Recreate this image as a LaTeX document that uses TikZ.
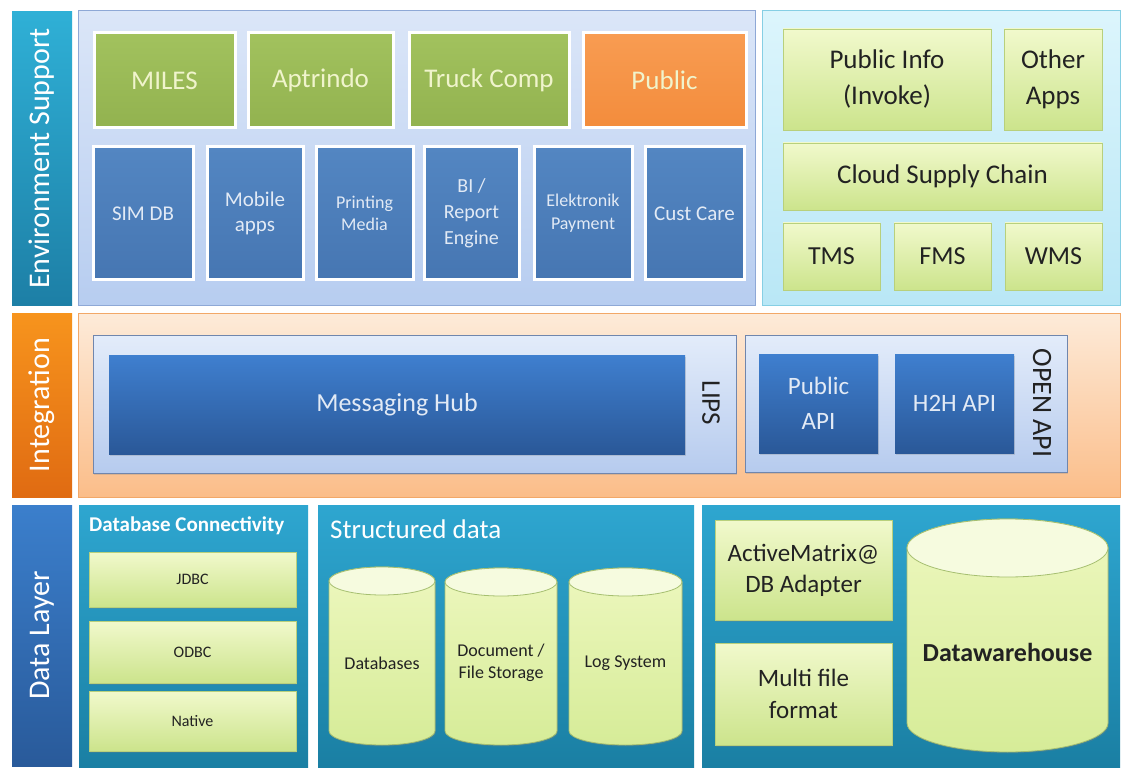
\documentclass[tikz,border=0pt]{standalone}
\usepackage{fontspec}
\setmainfont{Carlito}
\usetikzlibrary{shadows}
\definecolor{envbarA}{HTML}{2FB0D6}\definecolor{envbarB}{HTML}{1D7FA6}
\definecolor{intbarA}{HTML}{F7941D}\definecolor{intbarB}{HTML}{E06B12}
\definecolor{databarA}{HTML}{3B7FCC}\definecolor{databarB}{HTML}{295A9A}
\definecolor{pA}{HTML}{DBE6F8}\definecolor{pB}{HTML}{B7CDF0}\definecolor{pline}{HTML}{8EA8D6}
\definecolor{qA}{HTML}{DCF5FC}\definecolor{qB}{HTML}{B9E7F6}\definecolor{qline}{HTML}{86CFE4}
\definecolor{iA}{HTML}{FDEBD9}\definecolor{iB}{HTML}{FBBD89}\definecolor{iline}{HTML}{F2A868}
\definecolor{inA}{HTML}{E3ECFA}\definecolor{inB}{HTML}{B6CBEE}\definecolor{inline}{HTML}{7086AD}
\definecolor{hubA}{HTML}{3F7FCF}\definecolor{hubB}{HTML}{2A5898}
\definecolor{oliveA}{HTML}{A2C25E}\definecolor{oliveB}{HTML}{92B24F}
\definecolor{orangeA}{HTML}{F89C52}\definecolor{orangeB}{HTML}{F38C3C}
\definecolor{blueA}{HTML}{5386C2}\definecolor{blueB}{HTML}{4676B2}
\definecolor{grA}{HTML}{F1F9CC}\definecolor{grB}{HTML}{CCE48C}\definecolor{grline}{HTML}{B8D07C}
\definecolor{dA}{HTML}{2EA6D0}\definecolor{dB}{HTML}{1A7FA3}
\definecolor{cylA}{HTML}{EDF7BE}\definecolor{cylB}{HTML}{D6EC98}\definecolor{cylline}{HTML}{A6BF70}
\definecolor{cyltopc}{HTML}{F6FBDF}
\definecolor{paletext}{HTML}{F0F4CC}\definecolor{bluetext}{HTML}{E2EAF5}
\definecolor{darktext}{HTML}{222222}
\newcommand\mycyl[6]{%
 \path[cylbody] (#2-#3,#4) -- (#2-#3,#5) arc[start angle=180,end angle=0,x radius=#3,y radius=#6] -- (#2+#3,#4) arc[start angle=0,end angle=-180,x radius=#3,y radius=#6] -- cycle;
 \path[cyltop] (#2,#4) ellipse[x radius=#3,y radius=#6];
 \coordinate (#1) at (#2,{(#4+#5)/2});
}
\begin{document}
\begin{tikzpicture}[x=1pt,y=-1pt,
 barbox/.style={inner sep=0pt, draw=none},
 bartext/.style={inner sep=0pt, text=white, font=\fontsize{30}{34}\selectfont},
 panel/.style={inner sep=0pt, line width=1pt},
 shadowed/.style={drop shadow={opacity=0.25,shadow xshift=1pt,shadow yshift=-1.5pt}},
 topbox/.style={inner sep=0pt, align=center, draw=white, line width=3pt, shadowed},
 olivebox/.style={topbox, top color=oliveA, bottom color=oliveB, text=paletext, font=\fontsize{27}{33}\selectfont},
 orangebox/.style={topbox, top color=orangeA, bottom color=orangeB, text=paletext, font=\fontsize{27}{33}\selectfont},
 bluebox/.style={topbox, top color=blueA, bottom color=blueB, text=bluetext},
 greenbox/.style={inner sep=0pt, align=center, draw=grline, line width=0.6pt, top color=grA, bottom color=grB, text=darktext, shadowed},
 hubbox/.style={inner sep=0pt, align=center, draw=none, top color=hubA, bottom color=hubB, text=bluetext, shadowed},
 cylbody/.style={top color=cylA, bottom color=cylB, draw=cylline, line width=0.8pt, shadowed},
 cyltop/.style={fill=cyltopc, draw=cylline, line width=0.8pt},
 cyltext/.style={inner sep=0pt, align=center, text=darktext, font=\fontsize{18}{22}\selectfont},
]
\useasboundingbox (0,0) rectangle (1125,778);
\fill[white] (0,0) rectangle (1125,778);

% left bars
\node[barbox, top color=envbarA, bottom color=envbarB, minimum width=60pt, minimum height=293pt] (envbar) at (42,158.5) {};
\node[barbox, top color=intbarA, bottom color=intbarB, minimum width=60pt, minimum height=184pt] (intbar) at (42,405) {};
\node[barbox, top color=databarA, bottom color=databarB, minimum width=60pt, minimum height=261pt] (databar) at (42,635.5) {};
\node[bartext, rotate=90] (envlbl) at (envbar) {Environment Support};
\node[bartext, rotate=90] (intlbl) at (intbar) {Integration};
\node[bartext, rotate=90] (datalbl) at (databar) {Data Layer};

% panels
\node[panel, top color=pA, bottom color=pB, draw=pline, minimum width=677pt, minimum height=294pt] (envp1) at (416.5,158) {};
\node[panel, top color=qA, bottom color=qB, draw=qline, minimum width=358pt, minimum height=294pt] (envp2) at (941,158) {};
\node[panel, top color=iA, bottom color=iB, draw=iline, minimum width=1042pt, minimum height=184pt] (intp) at (599,405) {};
\node[panel, top color=dA, bottom color=dB, draw=none, minimum width=229pt, minimum height=262pt] (dcp) at (193.5,636) {};
\node[panel, top color=dA, bottom color=dB, draw=none, minimum width=376pt, minimum height=262pt] (sdp) at (506,636) {};
\node[panel, top color=dA, bottom color=dB, draw=none, minimum width=418pt, minimum height=262pt] (dwp) at (911,636) {};

% environment support: top row
\node[olivebox, minimum width=141pt, minimum height=95pt] (miles) at (164.5,80.5) {MILES};
\node[olivebox, minimum width=145pt, minimum height=95pt] (aptrindo) at (320.5,80.5) {Aptrindo};
\node[olivebox, minimum width=160pt, minimum height=95pt] (truck) at (489,80.5) {Truck Comp};
\node[orangebox, minimum width=163pt, minimum height=95pt] (public) at (664.5,80.5) {Public};

% blue row
\node[bluebox, minimum width=100pt, minimum height=133pt, font=\fontsize{21}{25}\selectfont] (simdb) at (143,213.5) {SIM DB};
\node[bluebox, minimum width=96pt, minimum height=133pt, font=\fontsize{21}{25}\selectfont] (mobile) at (255,213.5) {Mobile\\apps};
\node[bluebox, minimum width=97pt, minimum height=133pt, font=\fontsize{18}{22}\selectfont] (printing) at (364.5,213.5) {Printing\\Media};
\node[bluebox, minimum width=95pt, minimum height=133pt, font=\fontsize{20}{26}\selectfont] (bi) at (471.5,213.5) {BI /\\Report\\Engine};
\node[bluebox, minimum width=98pt, minimum height=133pt, font=\fontsize{18}{23}\selectfont] (elek) at (583,213.5) {Elektronik\\Payment};
\node[bluebox, minimum width=99pt, minimum height=133pt, font=\fontsize{21}{25}\selectfont] (cust) at (694.5,213.5) {Cust Care};

% right environment panel
\node[greenbox, minimum width=208pt, minimum height=101pt, font=\fontsize{27}{36}\selectfont] (pubinfo) at (887,79.5) {Public Info\\(Invoke)};
\node[greenbox, minimum width=98pt, minimum height=101pt, font=\fontsize{27}{36}\selectfont] (other) at (1053,79.5) {Other\\Apps};
\node[greenbox, minimum width=319pt, minimum height=67pt, font=\fontsize{27}{33}\selectfont] (cloud) at (942.5,176.5) {Cloud Supply Chain};
\node[greenbox, minimum width=97pt, minimum height=67pt, font=\fontsize{26}{30}\selectfont] (tms) at (831.5,256.5) {TMS};
\node[greenbox, minimum width=97pt, minimum height=67pt, font=\fontsize{26}{30}\selectfont] (fms) at (942.5,256.5) {FMS};
\node[greenbox, minimum width=97pt, minimum height=67pt, font=\fontsize{26}{30}\selectfont] (wms) at (1053.5,256.5) {WMS};

% integration
\node[panel, top color=inA, bottom color=inB, draw=inline, line width=0.8pt, shadowed, minimum width=643pt, minimum height=138pt] (lipsp) at (414.5,404) {};
\node[panel, top color=inA, bottom color=inB, draw=inline, line width=0.8pt, shadowed, minimum width=322pt, minimum height=137pt] (openp) at (906,403.5) {};
\node[hubbox, minimum width=576pt, minimum height=99pt, font=\fontsize{26}{30}\selectfont] (hub) at (397,404.5) {Messaging Hub};
\node[inner sep=0pt, rotate=-90, text=darktext, font=\fontsize{27}{30}\selectfont] (lips) at (711,403) {LIPS};
\node[hubbox, minimum width=119pt, minimum height=99pt, font=\fontsize{25}{35}\selectfont] (pubapi) at (818.5,403.5) {Public\\API};
\node[hubbox, minimum width=119pt, minimum height=99pt, font=\fontsize{25}{30}\selectfont] (h2h) at (954.5,403.5) {H2H API};
\node[inner sep=0pt, rotate=-90, text=darktext, font=\fontsize{28}{30}\selectfont] (openapi) at (1042,403) {OPEN API};

% data layer: database connectivity
\node[inner sep=0pt, anchor=west, text=white, font=\bfseries\fontsize{21}{24}\selectfont] (dctitle) at (89,526) {Database Connectivity};
\node[greenbox, minimum width=207pt, minimum height=55pt, font=\fontsize{16}{20}\selectfont] (jdbc) at (192.5,579.5) {JDBC};
\node[greenbox, minimum width=207pt, minimum height=62pt, font=\fontsize{16}{20}\selectfont] (odbc) at (192.5,652) {ODBC};
\node[greenbox, minimum width=207pt, minimum height=60pt, font=\fontsize{16}{20}\selectfont] (native) at (192.5,721) {Native};

% structured data
\node[inner sep=0pt, anchor=west, text=white, font=\fontsize{27}{30}\selectfont] (sdtitle) at (330,529) {Structured data};
\mycyl{cdb}{382}{53}{581}{731}{14}
\mycyl{cdoc}{501}{56}{582}{731}{14}
\mycyl{clog}{625.5}{56.5}{582}{731}{14}
\node[cyltext] (dbtext) at (382,663) {Databases};
\node[cyltext] (doctext) at (501,663) {Document /\\File Storage};
\node[cyltext] (logtext) at (625.5,663) {Log System};

% datawarehouse panel
\node[greenbox, minimum width=177pt, minimum height=100pt, font=\fontsize{25}{31}\selectfont] (amx) at (803.5,570) {ActiveMatrix@\\DB Adapter};
\node[greenbox, minimum width=177pt, minimum height=102pt, font=\fontsize{25}{32}\selectfont] (multi) at (803.5,694) {Multi file\\format};
\mycyl{cdw}{1007.5}{100.5}{548}{723}{29}
\node[cyltext, font=\bfseries\fontsize{26}{30}\selectfont] (dwtext) at (1007.5,652) {Datawarehouse};
\end{tikzpicture}
\end{document}
